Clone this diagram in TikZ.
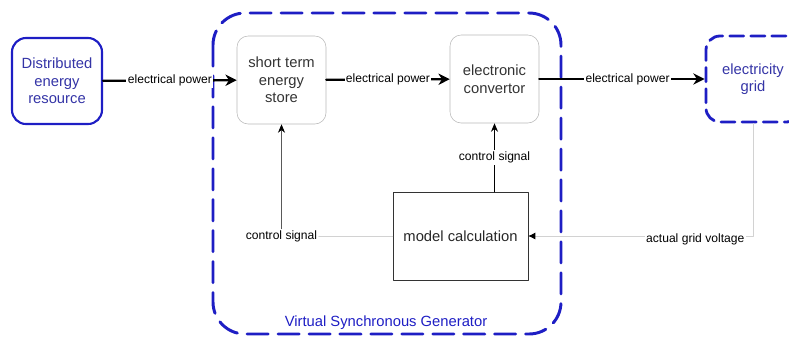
\documentclass[tikz,border=0pt]{standalone}
\usepackage{fontspec}
\setmainfont{Liberation Sans}
\usetikzlibrary{arrows.meta}
\definecolor{vsgblue}{HTML}{1E1EC4}
\definecolor{txtblue}{HTML}{3434A6}
\begin{document}
\begin{tikzpicture}[x=0.025cm, y=-0.025cm, line join=round, line cap=round,
	blockbox/.style={draw=gray!55, rounded corners=8pt, minimum width=2.225cm, minimum height=2.2cm,
		align=center, text=black!80, font=\fontsize{10.5}{12.5}\selectfont},
	bluebox/.style={blockbox, draw=vsgblue, line width=1.5pt, rounded corners=10pt, text=txtblue},
	calcbox/.style={draw=black!80, minimum width=3.375cm, minimum height=2.2cm,
		font=\fontsize{10.5}{12.5}\selectfont, text=black!85},
	power/.style={line width=1.7pt, -{Stealth[length=8pt, width=8pt, inset=2.5pt]}},
	plabel/.style={fill=white, inner sep=1pt, font=\fontsize{8.6}{10}\selectfont},
	faint/.style={draw=gray!35, line width=0.5pt}
	]
	\useasboundingbox (0,0) rectangle (789,338);

	% virtual synchronous generator frame
	\draw[vsgblue, line width=2.1pt, dash pattern=on 15pt off 7pt, rounded corners=0.8cm]
		(213,13) rectangle (561,334);
	\node[text=vsgblue, font=\fontsize{10.5}{12.5}\selectfont] (vsglabel) at (386,323) {Virtual Synchronous Generator};

	\node[bluebox, minimum width=2.25cm, minimum height=2.15cm] (der) at (57,81) {Distributed\\energy\\resource};
	\node[blockbox] (stes) at (281.5,80) {short term\\energy\\store};
	\node[blockbox] (conv) at (494.5,79) {electronic\\convertor};
	\node[bluebox, line width=2pt, dash pattern=on 10pt off 5pt, minimum width=2.35cm, minimum height=2.15cm] (grid) at (753,79) {electricity\\grid};
	\node[calcbox] (model) at (460.5,236) {model calculation};

	% power flow
	\draw[power] (der) -- node[plabel]{electrical power} (stes);
	\draw[power] (stes) -- node[plabel]{electrical power} (conv);
	\draw[power] (conv) -- node[plabel, xshift=4pt]{electrical power} (grid);

	% signals
	\draw[line width=0.9pt, -{Stealth[length=6pt, width=5pt]}] (model.north -| conv.south) -- node[plabel]{control signal} (conv.south);
	\node[plabel] (csleft) at (stes.south |- model.west) {control signal};
	\draw[faint] (model.west) -- (csleft.east);
	\draw[draw=black!65, line width=0.5pt, -{Stealth[length=6pt, width=5pt, black]}] (csleft.north) -- (stes.south);
	\draw[faint, -{Latex[length=5pt, width=5pt, black]}] (grid.south) |- (model.east);
	\node[plabel, anchor=north east] (agv) at ([shift={(-7,-4)}]grid.south |- model.east) {actual grid voltage};
\end{tikzpicture}
\end{document}
